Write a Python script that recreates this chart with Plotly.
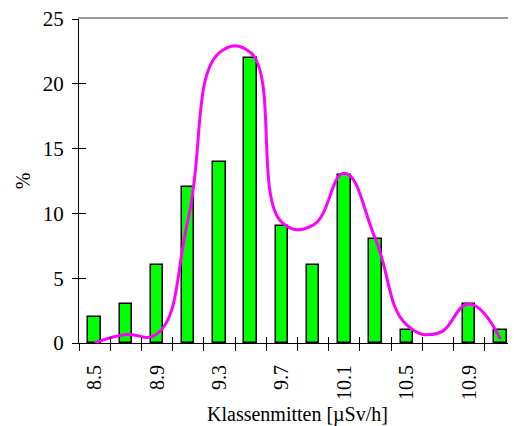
import plotly.graph_objects as go

# Data
klassen = [8.5, 8.7, 8.9, 9.1, 9.3, 9.5, 9.7, 9.9, 10.1, 10.3, 10.5, 10.7, 10.9, 11.1]
prozent = [2, 3, 6, 12, 14, 22, 9, 6, 13, 8, 1, 0, 3, 1]
kurve = [0, 0.65, 0.7, 9.6, 22.4, 22.4, 9.3, 9.1, 13.1, 8, 1.4, 0.75, 3.0, 0.3]
tick_labels = ["8.5", "8.9", "9.3", "9.7", "10.1", "10.5", "10.9"]
y_ticks = [0, 5, 10, 15, 20, 25]

half = (klassen[1] - klassen[0]) / 2
xr = [klassen[0] - half, klassen[-1] + half]
boundaries = [k - half for k in klassen]
label_pos = [float(t) for t in tick_labels]

FONT = "Liberation Serif, Times New Roman, serif"

fig = go.Figure()
fig.add_trace(go.Bar(
    x=klassen, y=prozent, width=0.08,
    marker=dict(color="#00FF00",
                line=dict(color="black", width=[1.5 if v > 0 else 0 for v in prozent])),
    showlegend=False,
))
fig.add_trace(go.Scatter(
    x=klassen, y=kurve, mode="lines",
    line=dict(color="#FF00FF", width=3, shape="spline", smoothing=1.3),
    showlegend=False,
))
# invisible helper traces so overlay axes are drawn
fig.add_trace(go.Scatter(x=klassen, y=prozent, xaxis="x2", yaxis="y2",
                         mode="markers", marker=dict(opacity=0), showlegend=False, hoverinfo="skip"))
fig.add_trace(go.Scatter(x=klassen, y=prozent, xaxis="x3", yaxis="y",
                         mode="markers", marker=dict(opacity=0), showlegend=False, hoverinfo="skip"))
fig.add_trace(go.Scatter(x=klassen, y=prozent, xaxis="x4", yaxis="y",
                         mode="markers", marker=dict(opacity=0), showlegend=False, hoverinfo="skip"))

# page body has an 8px margin, so the figure is sized/offset to compensate
fig.update_layout(
    width=508, height=418,
    margin=dict(l=71, r=0, t=11, b=83),
    paper_bgcolor="white", plot_bgcolor="white",
    font=dict(family=FONT, color="black", size=20),
    bargap=0,
    xaxis=dict(range=xr, tickmode="array", tickvals=boundaries, showticklabels=False,
               ticks="outside", ticklen=7, tickwidth=1, tickcolor="black", automargin=False,
               showline=True, linecolor="black", linewidth=1, showgrid=False, zeroline=False),
    xaxis2=dict(range=xr, overlaying="x", anchor="y", tickmode="array", tickvals=boundaries,
                showticklabels=False, ticks="inside", ticklen=6, tickwidth=1, tickcolor="black",
                automargin=False, showline=False, showgrid=False, zeroline=False),
    xaxis3=dict(range=xr, overlaying="x", anchor="y", side="bottom", tickmode="array",
                tickvals=label_pos, ticktext=tick_labels, tickangle=-90,
                ticks="outside", ticklen=13, tickcolor="rgba(0,0,0,0)", automargin=False,
                tickfont=dict(size=20), showline=False, showgrid=False, zeroline=False,
                title=dict(text="Klassenmitten [µSv/h]", font=dict(size=20), standoff=8)),
    xaxis4=dict(range=xr, overlaying="x", anchor="y", side="top", showticklabels=False,
                ticks="", showline=True, linecolor="#999999", linewidth=1.5, automargin=False,
                showgrid=False, zeroline=False),
    yaxis=dict(range=[0, 25], tickmode="array", tickvals=y_ticks, ticks="outside", ticklen=6,
               tickwidth=1, tickcolor="black", showline=True, linecolor="black", linewidth=1,
               showgrid=False, zeroline=False, tickfont=dict(size=21), automargin=False,
               ticklabelstandoff=4, ticklabeloverflow="allow",
               title=dict(text="%", font=dict(size=20), standoff=6)),
    yaxis2=dict(range=[0, 25], overlaying="y", anchor="x", side="left", tickmode="array",
                tickvals=y_ticks, ticks="inside", ticklen=7, tickwidth=1, tickcolor="black",
                automargin=False, showticklabels=False, showline=False, showgrid=False,
                zeroline=False),
)

fig.write_html("out.html")
